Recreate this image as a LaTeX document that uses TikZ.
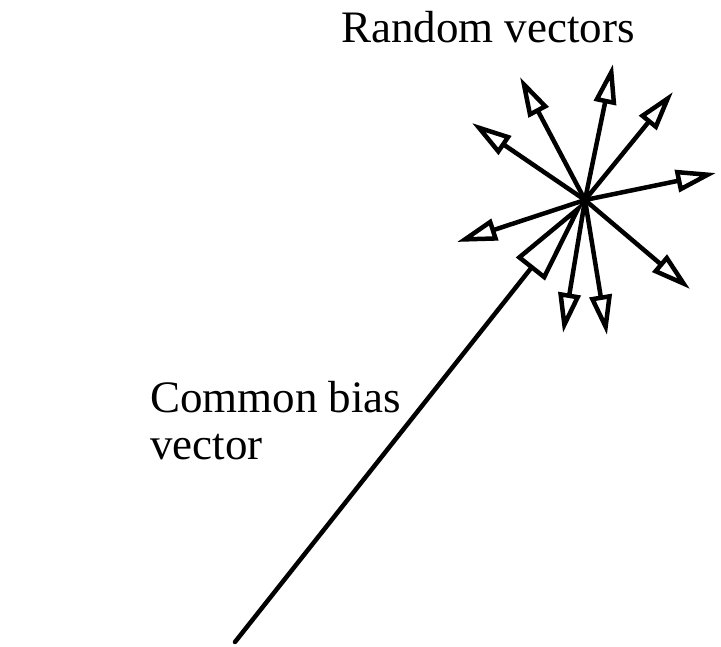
\documentclass[tikz,border=0pt]{standalone}
\usepackage{fontspec}
\setmainfont{Liberation Serif}
\usetikzlibrary{arrows.meta}

\begin{document}
\begin{tikzpicture}[
    x=1pt, y=-1pt,
    line cap=round, line join=round,
    every node/.style={font=\fontsize{45}{47}\selectfont, inner sep=0pt},
    rvec/.style={
      -{Triangle[open, length=40pt, width=22pt, fill=white]},
      line width=4.5pt, black
    },
    bvec/.style={
      -{Triangle[open, length=88pt, width=36pt, fill=white]},
      line width=4.5pt, black
    },
  ]
  \useasboundingbox (0,0) rectangle (721,646);

  % origin of the random vectors and start of the bias vector
  \coordinate (o)    at (585,200);
  \coordinate (base) at (235,642);

  % tips of the random vectors
  \coordinate (r1) at (472,123);
  \coordinate (r2) at (520,77);
  \coordinate (r3) at (613,64);
  \coordinate (r4) at (673,92);
  \coordinate (r5) at (716,173);
  \coordinate (r6) at (690,289);
  \coordinate (r7) at (607,335);
  \coordinate (r8) at (563,333);
  \coordinate (r9) at (457,242);

  \node[anchor=base] (title) at (488,42) {Random vectors};
  \node[anchor=base west, align=left] (bias) at (150,459)
    {Common bias\\vector};

  \draw[bvec] (base) -- (o);
  \foreach \t in {r1,r2,r3,r4,r5,r6,r7,r8,r9}
    \draw[rvec] (o) -- (\t);

\end{tikzpicture}
\end{document}
